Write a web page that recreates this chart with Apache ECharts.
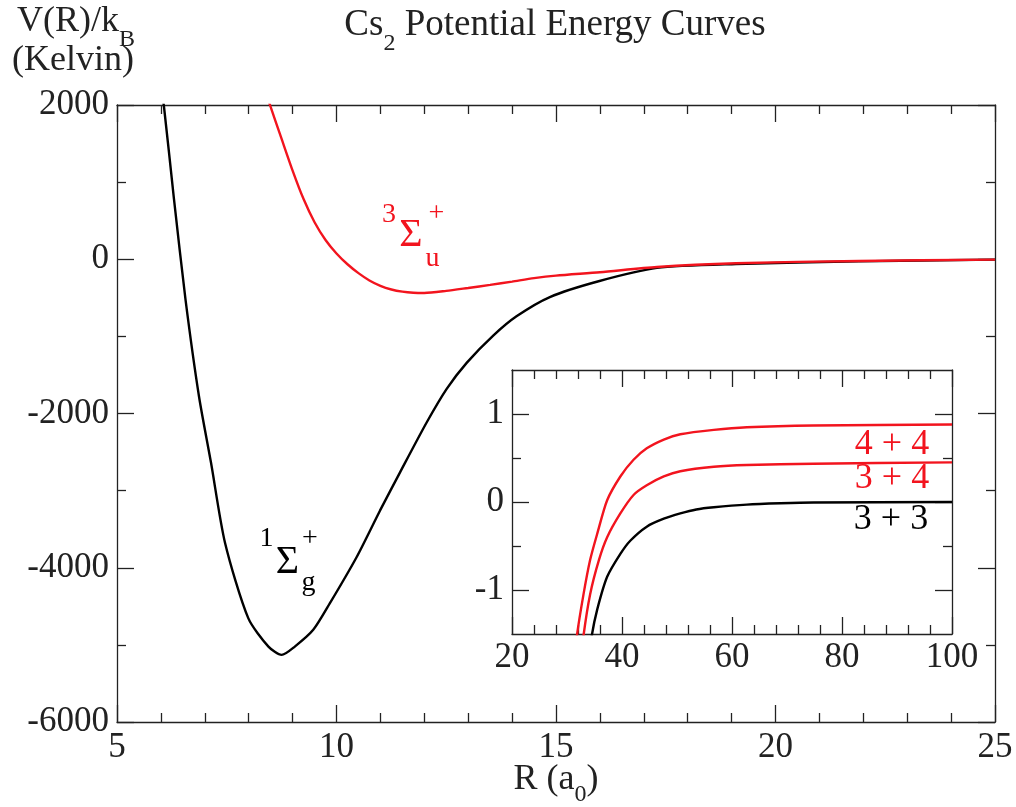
<!DOCTYPE html>
<html><head><meta charset="utf-8">
<script src="https://cdn.jsdelivr.net/npm/echarts@6/dist/echarts.min.js"></script>
<style>html,body{margin:0;padding:0;background:#fff}#c{width:1016px;height:807px}</style>
</head><body><div id="c"></div>
<script>
const FONT = '"Liberation Serif", "Times New Roman", serif';
const BLACK = '#000000';
const RED = '#f2141e';
const AXC = '#222222';

// ---- main plot data: R (a0) and V/kB (K) ----
const singletR = [5.98, 6.071, 6.298, 6.56, 6.868, 7.141, 7.46, 7.99, 8.45, 8.75, 9.05, 9.47, 9.85, 10.46, 10.99, 11.45, 12.05, 12.51, 12.97, 13.57, 14.1, 14.86, 15.97, 17.3, 19.1, 21.9, 25];
const singletV = [2300, 1974, 779, -519, -1779, -2636, -3675, -4653, -5022, -5130, -5022, -4805, -4459, -3860, -3260, -2760, -2120, -1680, -1340, -990, -740, -490, -285, -112, -62, -28, -5];
const tripletR = [8.42, 8.49, 8.75, 9.0, 9.25, 9.5, 9.75, 10.0, 10.25, 10.5, 10.75, 11.0, 11.25, 11.5, 11.75, 12.0, 12.5, 13.0, 13.5, 14.0, 14.5, 15.0, 16.0, 17.3, 19.1, 21.9, 25];
const tripletV = [2110, 1991, 1560, 1150, 780, 480, 250, 75, -65, -180, -275, -345, -392, -420, -434, -437, -410, -372, -333, -290, -245, -212, -168, -100, -52, -22, -5];

// ---- inset data: R (a0) and V/kB (K) ----
const r33 = [34.0, 34.5, 35.5, 37.3, 39.7, 41.5, 44.5, 47.6, 50.6, 53.5, 56.7, 62.7, 68.8, 74.8, 100];
const v33 = [-1.8, -1.52, -1.22, -0.85, -0.59, -0.44, -0.28, -0.19, -0.13, -0.085, -0.06, -0.03, -0.015, -0.006, 0];
const r34 = [32.6, 33.0, 34.2, 35.8, 37.3, 39.7, 42.1, 44.5, 47.6, 50.6, 56.7, 62.7, 74.8, 100];
const v34 = [-1.8, -1.52, -1.05, -0.66, -0.40, -0.13, 0.08, 0.19, 0.29, 0.35, 0.40, 0.42, 0.435, 0.45];
const r44 = [31.4, 31.8, 33.0, 34.2, 35.5, 37.3, 39.7, 42.1, 44.5, 47.6, 50.6, 56.7, 62.7, 74.8, 100];
const v44 = [-1.8, -1.52, -1.05, -0.66, -0.36, 0.02, 0.29, 0.48, 0.61, 0.71, 0.77, 0.82, 0.85, 0.87, 0.88];

// ---- ticks ----
const insetMajorY = [-1, 0, 1];
const insetMinorY = [-0.5, 0.5];

function pairs(xs, ys) { return xs.map((x, i) => [x, ys[i]]); }

const TICK = 35;
const lineStyle = { color: AXC, width: 1.3 };
function axis(o) {
  const a = {
    type: 'value', gridIndex: o.grid, position: o.pos,
    min: o.min, max: o.max, interval: o.interval,
    axisLine: { show: o.line !== false, onZero: false, lineStyle },
    axisTick: { show: true, inside: true, length: o.tickLen || 17, lineStyle },
    minorTick: { show: !!o.minor, splitNumber: o.minor || 5, length: 9, lineStyle },
    splitLine: { show: false }, minorSplitLine: { show: false },
    axisLabel: { show: !!o.label, fontFamily: FONT, fontSize: TICK, color: AXC,
      margin: o.margin || 8, formatter: v => String(v), showMinLabel: true, showMaxLabel: true }
  };
  if (o.tickValues) a.axisTick.customValues = o.tickValues;
  if (o.labelValues) a.axisLabel.customValues = o.labelValues;
  return a;
}

// text helpers
const cv = document.createElement('canvas').getContext('2d');
function measure(t, size) { cv.font = size + 'px ' + FONT; return cv.measureText(t).width; }
function seq(x0, yc, pieces, fill, center) {
  let total = 0; pieces.forEach(p => total += measure(p[0], p[1]));
  let x = center ? x0 - total / 2 : x0;
  const out = [];
  pieces.forEach(p => {
    out.push({ type: 'text', x: x, y: yc + (p[2] || 0), z: 100,
      style: { text: p[0], font: p[1] + 'px ' + FONT, fill: fill, align: 'left', verticalAlign: 'middle' } });
    x += measure(p[0], p[1]);
  });
  return out;
}
function t(x, y, text, size, fill) {
  return { type: 'text', x: x, y: y, z: 100,
    style: { text: text, font: size + 'px ' + FONT, fill: fill, align: 'center', verticalAlign: 'middle' } };
}

const graphics = [].concat(
  seq(555, 25, [['Cs', 37], ['2', 24, 19], [' Potential Energy Curves', 37]], AXC, true),
  seq(17, 22, [['V(R)/k', 36], ['B', 24, 18]], AXC, false),
  seq(12, 61, [['(Kelvin)', 36]], AXC, false),
  seq(556, 780, [['R (a', 36], ['0', 24, 15], [')', 36]], AXC, true),
  [
    // triplet label
    t(389, 215, '3', 28, RED), t(411, 235, '\u03A3', 40, RED), t(436.5, 214, '+', 28, RED), t(432.5, 259, 'u', 28, RED),
    // singlet label
    t(266.5, 539, '1', 28, BLACK), t(287.5, 562, '\u03A3', 40, BLACK), t(310, 539, '+', 28, BLACK), t(308.5, 583, 'g', 28, BLACK),
    // inset labels
    t(892, 445, '4 + 4', 36, RED), t(892, 479, '3 + 4', 36, RED), t(891, 520, '3 + 3', 36, BLACK)
  ]
);

const option = {
  animation: false,
  backgroundColor: '#ffffff',
  grid: [
    { left: 117, right: 21, top: 105, bottom: 85 },
    { left: 512, right: 64, top: 370, bottom: 173, show: true, backgroundColor: '#ffffff', borderWidth: 0, z: 5 }
  ],
  xAxis: [
    axis({ grid: 0, pos: 'bottom', min: 5, max: 25, interval: 5, minor: 5, label: true, margin: 8 }),
    axis({ grid: 0, pos: 'top', min: 5, max: 25, interval: 5, minor: 5 }),
    Object.assign(axis({ grid: 1, pos: 'bottom', min: 20, max: 100, interval: 20, minor: 5, label: true, margin: 6 }), { z: 6 }),
    Object.assign(axis({ grid: 1, pos: 'top', min: 20, max: 100, interval: 20, minor: 5 }), { z: 6 })
  ],
  yAxis: [
    axis({ grid: 0, pos: 'left', min: -6000, max: 2000, interval: 2000, minor: 2, label: true, margin: 8 }),
    axis({ grid: 0, pos: 'right', min: -6000, max: 2000, interval: 2000, minor: 2 }),
    Object.assign(axis({ grid: 1, pos: 'left', min: -1.5, max: 1.5, interval: 0.5, label: true, margin: 8, tickValues: insetMajorY, labelValues: insetMajorY }), { z: 6 }),
    Object.assign(axis({ grid: 1, pos: 'left', min: -1.5, max: 1.5, interval: 0.5, line: false, tickLen: 9, tickValues: insetMinorY }), { z: 6 }),
    Object.assign(axis({ grid: 1, pos: 'right', min: -1.5, max: 1.5, interval: 0.5, tickValues: insetMajorY }), { z: 6 }),
    Object.assign(axis({ grid: 1, pos: 'right', min: -1.5, max: 1.5, interval: 0.5, line: false, tickLen: 9, tickValues: insetMinorY }), { z: 6 })
  ],
  series: [
    { type: 'line', name: 'singlet', xAxisIndex: 0, yAxisIndex: 0, data: pairs(singletR, singletV), showSymbol: false, smooth: 0.25, clip: true, lineStyle: { color: BLACK, width: 2.4 }, z: 2 },
    { type: 'line', name: 'triplet', xAxisIndex: 0, yAxisIndex: 0, data: pairs(tripletR, tripletV), showSymbol: false, smooth: 0.25, clip: true, lineStyle: { color: RED, width: 2.4 }, z: 3 },
    { type: 'line', name: '3+3', xAxisIndex: 2, yAxisIndex: 2, data: pairs(r33, v33), showSymbol: false, smooth: 0.25, clip: true, lineStyle: { color: BLACK, width: 2.4 }, z: 7 },
    { type: 'line', name: '3+4', xAxisIndex: 2, yAxisIndex: 2, data: pairs(r34, v34), showSymbol: false, smooth: 0.25, clip: true, lineStyle: { color: RED, width: 2.4 }, z: 7 },
    { type: 'line', name: '4+4', xAxisIndex: 2, yAxisIndex: 2, data: pairs(r44, v44), showSymbol: false, smooth: 0.25, clip: true, lineStyle: { color: RED, width: 2.4 }, z: 7 }
  ],
  graphic: graphics
};
const chart = echarts.init(document.getElementById('c'));
chart.setOption(option);
</script></body></html>
